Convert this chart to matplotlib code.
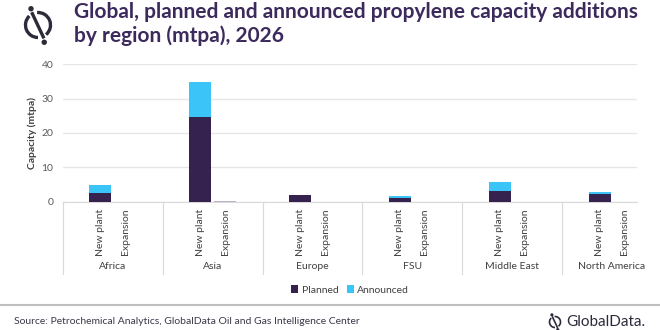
import numpy as np
import matplotlib.pyplot as plt
from matplotlib.patches import Arc, Circle

plt.rcParams['font.family'] = ['Lato', 'DejaVu Sans']

# データ
regions = ['Africa', 'Asia', 'Europe', 'FSU', 'Middle East', 'North America']
sub_labels = ['New plant', 'Expansion']
planned_new = [2.6, 24.6, 1.9, 1.2, 3.1, 2.3]
announced_new = [2.3, 10.2, 0.0, 0.6, 2.7, 0.5]
planned_exp = [0.0, 0.3, 0.0, 0.0, 0.0, 0.0]
announced_exp = [0.0, 0.0, 0.0, 0.0, 0.0, 0.0]

C_PLAN = '#35224F'
C_ANN = '#3AC4F7'
C_EXP = '#B9B3CC'
C_TXT = '#404040'
C_TITLE = '#3B2A5B'

fig = plt.figure(figsize=(6.6, 3.3), dpi=100)
ax = fig.add_axes([63 / 660, 1 - 202 / 330, 574 / 660, 138 / 330])

# 地域ごとに4スロット (空, New plant, Expansion, 空)
base = np.arange(len(regions)) * 4
x_new = base + 1
x_exp = base + 2
w = 0.88

ax.bar(x_new, planned_new, w, color=C_PLAN, label='Planned', zorder=3)
ax.bar(x_new, announced_new, w, bottom=planned_new, color=C_ANN, label='Announced', zorder=3)
ax.bar(x_exp, planned_exp, w, color=C_EXP, zorder=3)
ax.bar(x_exp, announced_exp, w, bottom=planned_exp, color=C_ANN, zorder=3)

ax.set_xlim(-0.5, len(regions) * 4 - 1.5)
ax.set_ylim(0, 40)
ax.set_yticks([0, 10, 20, 30, 40])
ax.yaxis.grid(True, color='#E6E6E6', linewidth=1)
ax.set_axisbelow(True)
for s in ['top', 'right', 'left']:
    ax.spines[s].set_visible(False)
ax.spines['bottom'].set_color('#D9D9D9')
ax.tick_params(axis='y', length=0, labelsize=7.5, labelcolor='#595959', pad=7)
ax.set_ylabel('Capacity (mtpa)', fontsize=7.5, fontweight='bold', color=C_TXT, labelpad=3)

xt = np.concatenate([x_new, x_exp])
xl = [sub_labels[0]] * len(regions) + [sub_labels[1]] * len(regions)
ax.set_xticks(xt)
ax.set_xticklabels(xl, rotation=90, fontsize=7.5, color=C_TXT, va='top')
ax.tick_params(axis='x', length=0, pad=5)

# 地域ラベルと区切り線
for i, r in enumerate(regions):
    ax.text(base[i] + 1.5, -0.47, r, transform=ax.get_xaxis_transform(),
            ha='center', va='center', fontsize=7.5, color=C_TXT)
    ax.plot([base[i] - 0.5, base[i] - 0.5], [0, -0.52], transform=ax.get_xaxis_transform(),
            color='#D9D9D9', linewidth=0.8, clip_on=False)

ax.legend(loc='center', bbox_to_anchor=(0.5, -0.638), ncol=2, frameon=False,
          fontsize=7.5, handlelength=0.7, handleheight=0.7, handletextpad=0.3,
          columnspacing=0.8, labelcolor=C_TXT)

# 装飾 (ピクセル座標)
deco = fig.add_axes([0, 0, 1, 1], zorder=-1)
deco.set_xlim(0, 660)
deco.set_ylim(330, 0)
deco.axis('off')

def logo(cx, cy, r, lw):
    deco.add_patch(Arc((cx, cy), 2 * r, 2 * r, theta1=90, theta2=226, color='#2B2B3A', lw=lw))
    deco.add_patch(Arc((cx, cy), 2 * r, 2 * r, theta1=266, theta2=410, color='#2B2B3A', lw=lw))
    deco.plot([cx - 0.45 * r, cx + 0.42 * r], [cy - 0.9 * r, cy + 0.95 * r], color='#2B2B3A', lw=lw)
    deco.add_patch(Circle((cx - 0.56 * r, cy - 1.3 * r), 0.16 * r, color='#2B2B3A'))
    deco.add_patch(Circle((cx + 0.5 * r, cy + 1.38 * r), 0.16 * r, color='#2B2B3A'))

logo(38, 25, 12.5, 2.4)
logo(555, 322, 5.5, 1.2)

deco.text(74, 12, 'Global, planned and announced propylene capacity additions',
          fontsize=15, fontweight='bold', color=C_TITLE, va='center')
deco.text(74, 36, 'by region (mtpa), 2026',
          fontsize=15, fontweight='bold', color=C_TITLE, va='center')

deco.plot([0, 660], [305, 305], color='#BFBFBF', lw=1.5)
deco.text(14, 322, 'Source: Petrochemical Analytics, GlobalData Oil and Gas Intelligence Center',
          fontsize=7.5, color='#3A3A4A', va='center')
deco.text(566, 322, 'GlobalData.', fontsize=11, color='#2B2B3A', va='center')

fig.savefig('out.png', dpi=100)
